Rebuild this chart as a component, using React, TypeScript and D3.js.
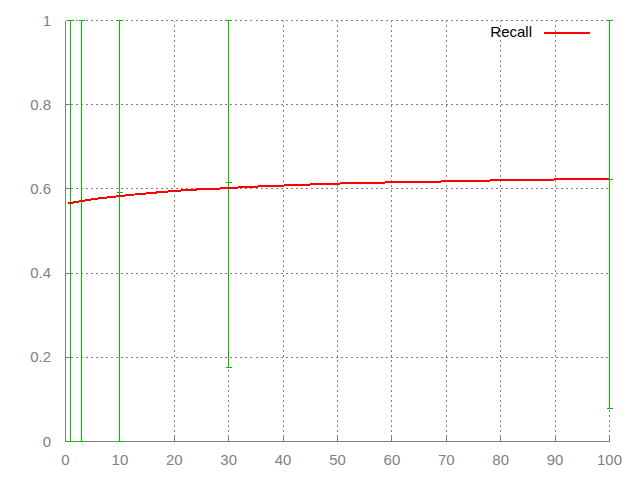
import React from "react";
import * as d3 from "d3";

const recallX = [0.5, 1, 2, 3, 4, 5, 6.5, 8, 10, 12, 14, 16, 18, 20, 23, 27, 30, 34, 38, 43, 48, 54, 62, 71, 82, 94, 100];
const recallY = [0.566, 0.567, 0.569, 0.5715, 0.573, 0.5755, 0.578, 0.58, 0.583, 0.586, 0.588, 0.5905, 0.593, 0.595, 0.598, 0.6, 0.602, 0.605, 0.607, 0.6095, 0.612, 0.614, 0.616, 0.618, 0.621, 0.623, 0.6235];

const errX = [1, 3, 10, 30, 100];
const errMid = [0.565, 0.571, 0.5905, 0.615, 0.6223];
const errLow = [0, 0, 0, 0.176, 0.078];
const errHigh = [1, 1, 1, 1, 1];

const xTicks = [0, 10, 20, 30, 40, 50, 60, 70, 80, 90, 100];
const yTicks = [0, 0.2, 0.4, 0.6, 0.8, 1];
const yTickLabels = ["0", "0.2", "0.4", "0.6", "0.8", "1"];

const W = 640;
const H = 480;
const FONT = "'Liberation Sans', Arial, sans-serif";
const GRAY = "#808080";
const GREEN = "#00c000";
const RED = "#ff0000";

export default function App() {
  const x = d3.scaleLinear().domain([0, 100]).range([65.5, 609.5]);
  const y = d3.scaleLinear().domain([0, 1]).range([441.5, 20.5]);

  const line = d3
    .line<number>()
    .x((_, i) => x(recallX[i]))
    .y((d) => y(d));

  const tickHalf = 3;

  return (
    <svg
      width={W}
      height={H}
      style={{ position: "absolute", left: 0, top: 0, background: "#fff" }}
    >
      <rect x={0} y={0} width={W} height={H} fill="#fff" />
      {/* grid */}
      <g stroke={GRAY} strokeWidth={1} strokeDasharray="2,3" shapeRendering="crispEdges">
        {xTicks
          .filter((t) => t !== 0)
          .map((t) => (
            <line key={"gx" + t} x1={Math.round(x(t) - 0.5) + 0.5} x2={Math.round(x(t) - 0.5) + 0.5} y1={y(0)} y2={y(1)} />
          ))}
        {yTicks
          .filter((t) => t !== 0)
          .map((t) => (
            <line key={"gy" + t} x1={x(0)} x2={x(100)} y1={Math.round(y(t) - 0.5) + 0.5} y2={Math.round(y(t) - 0.5) + 0.5} />
          ))}
      </g>
      {/* axes */}
      <g stroke={GRAY} strokeWidth={1} shapeRendering="crispEdges">
        <line x1={x(0)} x2={x(0)} y1={y(0)} y2={y(1)} />
        <line x1={x(0)} x2={x(100)} y1={y(0)} y2={y(0)} />
        {xTicks.map((t) => (
          <line key={"tx" + t} x1={Math.round(x(t) - 0.5) + 0.5} x2={Math.round(x(t) - 0.5) + 0.5} y1={y(0)} y2={y(0) - 6} />
        ))}
        {yTicks.map((t) => (
          <line key={"ty" + t} x1={x(0)} x2={x(0) + 6} y1={Math.round(y(t) - 0.5) + 0.5} y2={Math.round(y(t) - 0.5) + 0.5} />
        ))}
      </g>
      {/* tick labels */}
      <g fill={GRAY} fontFamily={FONT} fontSize={15}>
        {yTicks.map((t, i) => (
          <text key={"ly" + t} x={51} y={y(t) + 5} textAnchor="end">
            {yTickLabels[i]}
          </text>
        ))}
        {xTicks.map((t) => (
          <text key={"lx" + t} x={x(t)} y={465} textAnchor="middle">
            {t}
          </text>
        ))}
      </g>
      {/* error bars */}
      <g stroke={GREEN} strokeWidth={1} shapeRendering="crispEdges">
        {errX.map((v, i) => {
          const cx = Math.round(x(v) - 0.5) + 0.5;
          return (
            <g key={"e" + v}>
              <line x1={cx} x2={cx} y1={y(errLow[i])} y2={y(errHigh[i])} />
              <line x1={cx - tickHalf} x2={cx + tickHalf} y1={Math.round(y(errLow[i]) - 0.5) + 0.5} y2={Math.round(y(errLow[i]) - 0.5) + 0.5} />
              <line x1={cx - tickHalf} x2={cx + tickHalf} y1={Math.round(y(errHigh[i]) - 0.5) + 0.5} y2={Math.round(y(errHigh[i]) - 0.5) + 0.5} />
              <line x1={cx - tickHalf} x2={cx + tickHalf} y1={Math.round(y(errMid[i]) - 0.5) + 0.5} y2={Math.round(y(errMid[i]) - 0.5) + 0.5} />
            </g>
          );
        })}
      </g>
      {/* recall curve */}
      <path d={line(recallY) || ""} fill="none" stroke={RED} strokeWidth={2} shapeRendering="crispEdges" />
      {/* legend */}
      <text x={532} y={37} textAnchor="end" fontFamily={FONT} fontSize={15} fill="#000">
        Recall
      </text>
      <line x1={544} x2={590} y1={33} y2={33} stroke={RED} strokeWidth={2} shapeRendering="crispEdges" />
    </svg>
  );
}
